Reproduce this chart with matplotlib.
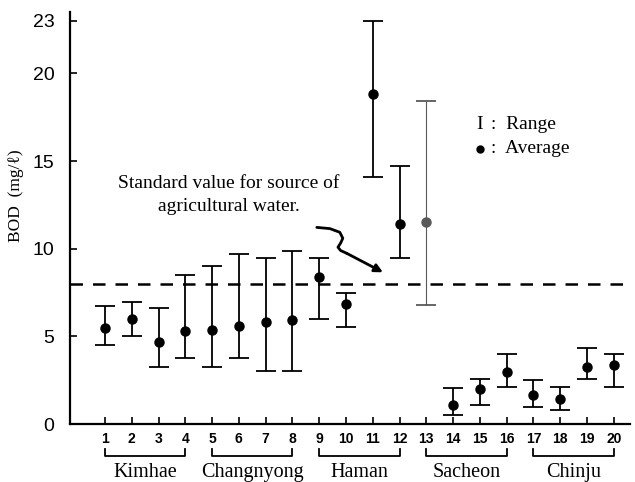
import matplotlib.pyplot as plt
import matplotlib.transforms as mtransforms

# sampling sites 1..20, BOD (mg/l)
sites = list(range(1, 21))
avg = [5.5, 6.0, 4.7, 5.3, 5.35, 5.6, 5.85, 5.95, 8.4, 6.85,
       18.8, 11.4, 11.5, 1.1, 2.0, 3.0, 1.65, 1.45, 3.25, 3.35]
high = [6.75, 6.95, 6.6, 8.5, 9.0, 9.7, 9.5, 9.9, 9.5, 7.5,
        23.0, 14.7, 18.4, 2.05, 2.55, 4.0, 2.5, 2.1, 4.35, 4.0]
low = [4.5, 5.0, 3.25, 3.75, 3.25, 3.8, 3.05, 3.05, 6.0, 5.55,
       14.1, 9.5, 6.8, 0.55, 1.1, 2.1, 1.0, 0.8, 2.55, 2.1]
standard = 8.0

groups = ['Kimhae', 'Changnyong', 'Haman', 'Sacheon', 'Chinju']
group_span = [(1, 4), (5, 8), (9, 12), (13, 16), (17, 20)]

serif = ['Liberation Serif', 'DejaVu Serif']
sans = ['Liberation Sans', 'DejaVu Sans']

fig = plt.figure(figsize=(6.35, 4.82), dpi=100)
ax = fig.add_axes([0.110, 0.120, 0.882, 0.855])

for i, s in enumerate(sites):
    faint = (s == 13)
    col = '0.35' if faint else 'black'
    lw = 0.8 if faint else 1.3
    ax.errorbar([s], [avg[i]], yerr=[[avg[i] - low[i]], [high[i] - avg[i]]],
                fmt='o', color=col, ecolor=col, elinewidth=lw, capthick=1.3,
                capsize=7, markersize=6.5)

ax.axhline(standard, color='black', lw=1.8, ls=(0, (5, 4)))

ax.set_xlim(-0.31, 20.6)
ax.set_ylim(0, 23.5)
ax.set_yticks([0, 5, 10, 15, 20, 23])
ax.set_xticks(sites)
ax.set_xticklabels([str(s) for s in sites], family=sans, fontsize=10, fontweight='bold')
ax.set_yticklabels(['0', '5', '10', '15', '20', '23'], family=sans, fontsize=14)
ax.tick_params(axis='both', direction='in', length=5, width=1.2)
ax.tick_params(axis='x', pad=6)
ax.tick_params(axis='y', pad=11)
for side in ['top', 'right']:
    ax.spines[side].set_visible(False)
for side in ['left', 'bottom']:
    ax.spines[side].set_linewidth(1.6)

ax.set_ylabel('BOD  (mg/ℓ)', family=serif, fontsize=12.5)
ax.yaxis.set_label_coords(-0.082, 0.555)

# group brackets below the tick labels
trans = mtransforms.blended_transform_factory(ax.transData, ax.transAxes)
for name, (a, b) in zip(groups, group_span):
    ax.plot([a, a, b, b], [-0.061, -0.078, -0.078, -0.061], color='black',
            lw=1.3, transform=trans, clip_on=False)
    ax.text((a + b) / 2, -0.117, name, transform=trans, ha='center', va='center',
            family=serif, fontsize=14.5)

# annotation with squiggly arrow
ax.text(5.63, 13.05, 'Standard value for source of\nagricultural water.',
        ha='center', va='center', family=serif, fontsize=14, linespacing=1.45)
sq_x = [8.91, 9.4, 9.77, 9.88, 9.80, 9.70, 9.80, 10.03]
sq_y = [11.22, 11.15, 10.94, 10.60, 10.33, 10.09, 9.90, 9.74]
ax.plot(sq_x, sq_y, color='black', lw=2.0, solid_capstyle='round')
ax.annotate('', xy=(11.38, 8.66), xytext=(10.03, 9.74),
            arrowprops=dict(arrowstyle='-|>', color='black', lw=2.0,
                            mutation_scale=12, shrinkA=0, shrinkB=0))

# legend as text
ax.text(15.0, 17.1, 'I', family=serif, fontsize=14, va='center', ha='center')
ax.text(15.4, 17.1, ':  Range', family=serif, fontsize=14, va='center')
ax.plot([15.0], [15.7], 'o', color='black', markersize=5)
ax.text(15.4, 15.7, ':  Average', family=serif, fontsize=14, va='center')

fig.savefig('out.png', dpi=100)
